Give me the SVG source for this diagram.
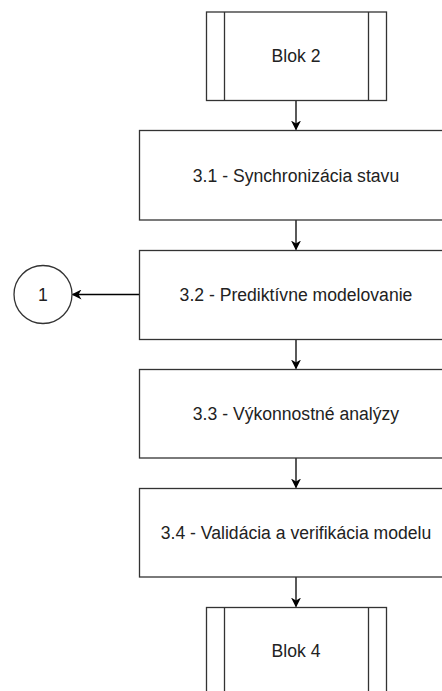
<svg xmlns="http://www.w3.org/2000/svg" width="442" height="691" viewBox="0 0 442 691">
  <style>
    .box { fill: #ffffff; stroke: #333333; stroke-width: 1.3; }
    .side { stroke: #333333; stroke-width: 1.3; fill: none; }
    .lbl { font-family: "Liberation Sans", Arial, sans-serif; font-size: 17.6px; fill: #222222; text-anchor: middle; }
    .edge { stroke: #000000; stroke-width: 1.3; fill: none; }
  </style>
  <defs>
    <marker id="arrow" viewBox="0 0 10 10" refX="9" refY="5" markerWidth="10" markerHeight="10" markerUnits="userSpaceOnUse" orient="auto">
      <path d="M0,0 L10,5 L0,10 L3,5 Z" fill="#000000"/>
    </marker>
  </defs>
  <rect width="442" height="691" fill="#ffffff"/>

  <!-- connectors -->
  <g id="connectors">
    <line class="edge" x1="296" y1="101" x2="296" y2="129.5" marker-end="url(#arrow)"/>
    <line class="edge" x1="296" y1="220" x2="296" y2="249.5" marker-end="url(#arrow)"/>
    <line class="edge" x1="296" y1="340" x2="296" y2="368.5" marker-end="url(#arrow)"/>
    <line class="edge" x1="296" y1="458" x2="296" y2="487.5" marker-end="url(#arrow)"/>
    <line class="edge" x1="296" y1="577" x2="296" y2="606.5" marker-end="url(#arrow)"/>
    <line class="edge" x1="139.5" y1="294.5" x2="72.5" y2="294.5" marker-end="url(#arrow)"/>
  </g>

  <!-- predefined process: Blok 2 -->
  <g id="blok2">
    <rect class="box" x="206.5" y="12" width="180" height="88.5"/>
    <line class="side" x1="224.5" y1="12" x2="224.5" y2="100.5"/>
    <line class="side" x1="368.5" y1="12" x2="368.5" y2="100.5"/>
    <text class="lbl" x="296" y="62">Blok 2</text>
  </g>

  <g id="step31">
    <rect class="box" x="139.5" y="130.5" width="313" height="89.5"/>
    <text class="lbl" x="296" y="181.5">3.1 - Synchronizácia stavu</text>
  </g>

  <g id="step32">
    <rect class="box" x="139.5" y="250.5" width="313" height="89"/>
    <text class="lbl" x="296" y="301">3.2 - Prediktívne modelovanie</text>
  </g>

  <g id="step33">
    <rect class="box" x="139.5" y="369.5" width="313" height="88.5"/>
    <text class="lbl" x="296" y="420">3.3 - Výkonnostné analýzy</text>
  </g>

  <g id="step34">
    <rect class="box" x="139.5" y="488.5" width="313" height="88.5"/>
    <text class="lbl" x="296" y="539">3.4 - Validácia a verifikácia modelu</text>
  </g>

  <!-- off-page connector -->
  <g id="connector1">
    <circle class="box" cx="43" cy="294.5" r="29"/>
    <text class="lbl" x="43" y="300.5">1</text>
  </g>

  <!-- predefined process: Blok 4 -->
  <g id="blok4">
    <rect class="box" x="206.5" y="607.5" width="180" height="90"/>
    <line class="side" x1="224.5" y1="607.5" x2="224.5" y2="697.5"/>
    <line class="side" x1="368.5" y1="607.5" x2="368.5" y2="697.5"/>
    <text class="lbl" x="296" y="657">Blok 4</text>
  </g>
</svg>
